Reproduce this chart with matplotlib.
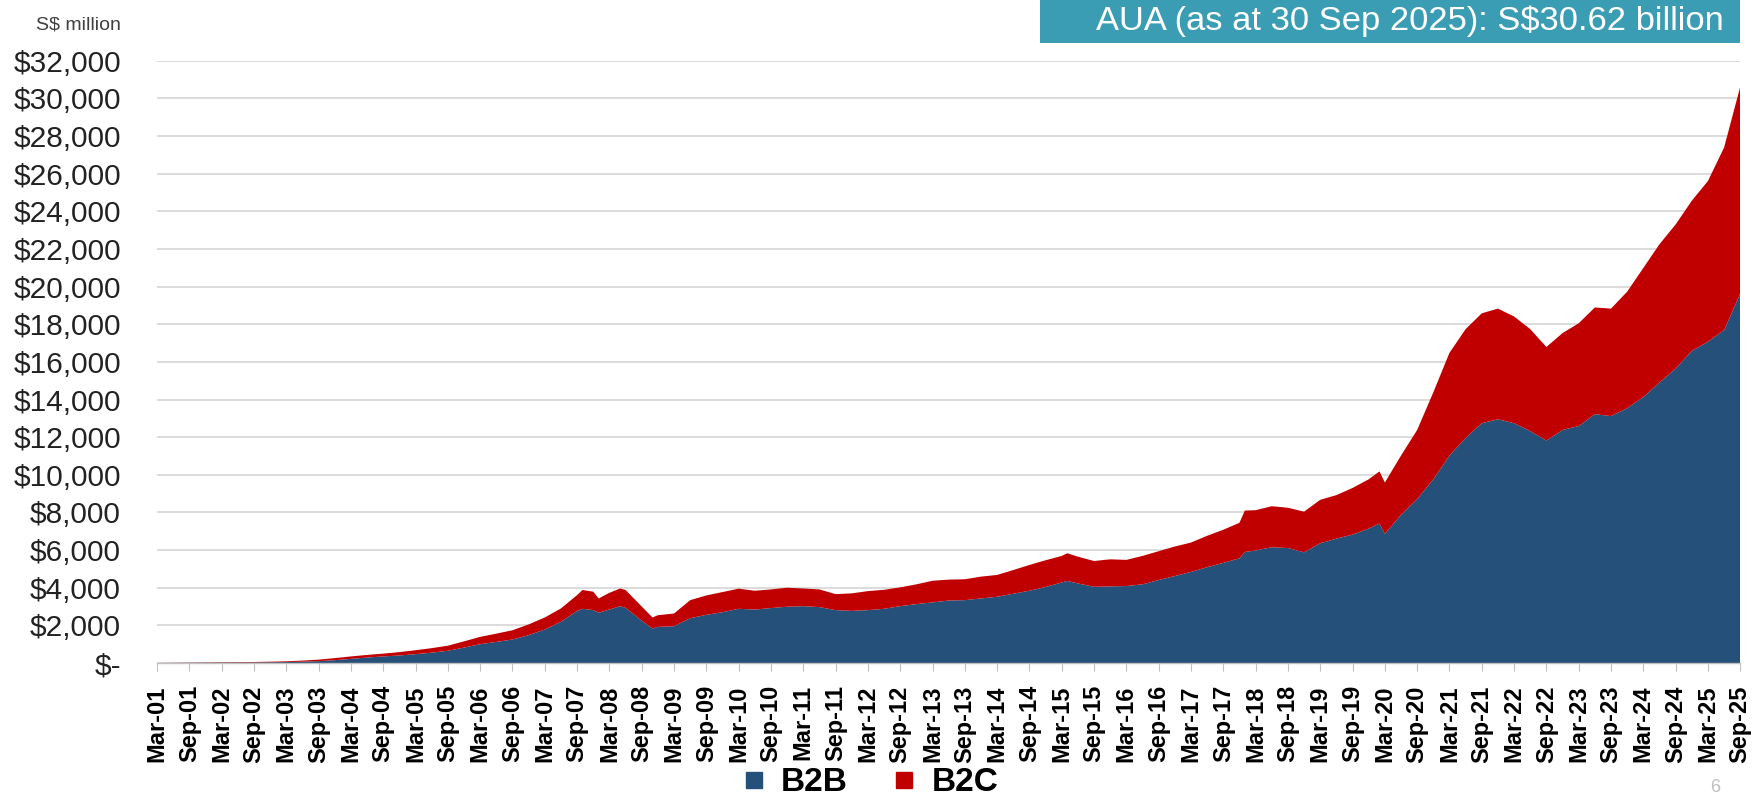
import numpy as np
import matplotlib.pyplot as plt
from matplotlib.lines import Line2D
from matplotlib.patches import Rectangle
from matplotlib.ticker import FuncFormatter

plt.rcParams['font.family'] = ['Liberation Sans', 'DejaVu Sans']

# month-end dates (S$ million)
dates = ['2001-03', '2001-06', '2001-09', '2001-12', '2002-03', '2002-06', '2002-09', '2002-12',
         '2003-03', '2003-06', '2003-09', '2003-12', '2004-03', '2004-06', '2004-09', '2004-12',
         '2005-03', '2005-06', '2005-09', '2005-12', '2006-03', '2006-06', '2006-09', '2006-12',
         '2007-03', '2007-06', '2007-09', '2007-10', '2007-12', '2008-01', '2008-03', '2008-05',
         '2008-06', '2008-09', '2008-11', '2008-12', '2009-03', '2009-06', '2009-09', '2009-12',
         '2010-03', '2010-06', '2010-09', '2010-12', '2011-03', '2011-06', '2011-09', '2011-12',
         '2012-03', '2012-06', '2012-09', '2012-12', '2013-03', '2013-06', '2013-09', '2013-12',
         '2014-03', '2014-06', '2014-09', '2014-12', '2015-03', '2015-04', '2015-06', '2015-09',
         '2015-12', '2016-03', '2016-06', '2016-09', '2016-12', '2017-03', '2017-06', '2017-09',
         '2017-12', '2018-01', '2018-03', '2018-06', '2018-09', '2018-12', '2019-03', '2019-06',
         '2019-09', '2019-12', '2020-02', '2020-03', '2020-06', '2020-09', '2020-12', '2021-03',
         '2021-06', '2021-09', '2021-12', '2022-03', '2022-06', '2022-09', '2022-12', '2023-03',
         '2023-06', '2023-09', '2023-12', '2024-03', '2024-06', '2024-09', '2024-12', '2025-03',
         '2025-06', '2025-09']

b2b = [0, 5, 10, 15, 20, 25, 30, 40,
       50, 70, 100, 150, 220, 290, 350, 400,
       470, 550, 650, 820, 1000, 1120, 1250, 1480,
       1780, 2190, 2770, 2880, 2810, 2670, 2840, 3020,
       2930, 2250, 1830, 1920, 1955, 2380, 2560, 2700,
       2880, 2840, 2920, 2990, 3020, 2970, 2810, 2770,
       2810, 2880, 3020, 3130, 3220, 3320, 3340, 3430,
       3520, 3680, 3840, 4040, 4280, 4360, 4230, 4050,
       4070, 4090, 4180, 4410, 4620, 4840, 5090, 5320,
       5560, 5900, 5980, 6150, 6110, 5880, 6360, 6610,
       6820, 7140, 7410, 6860, 7870, 8710, 9760, 11020,
       11960, 12740, 12950, 12740, 12320, 11820, 12380, 12590,
       13220, 13120, 13540, 14130, 14900, 15640, 16580, 17070,
       17690, 19630]

b2c = [0, 5, 10, 15, 20, 20, 25, 30,
       40, 60, 80, 110, 130, 140, 150, 180,
       210, 240, 270, 330, 390, 440, 490, 570,
       640, 710, 840, 1000, 980, 760, 890, 940,
       950, 750, 590, 620, 675, 960, 1030, 1070,
       1070, 1000, 990, 1010, 940, 940, 850, 930,
       1010, 1010, 1000, 1050, 1150, 1110, 1110, 1160,
       1160, 1260, 1370, 1420, 1410, 1470, 1420, 1370,
       1440, 1390, 1510, 1530, 1570, 1560, 1670, 1760,
       1890, 2200, 2140, 2180, 2140, 2160, 2310, 2310,
       2480, 2620, 2770, 2730, 3150, 3670, 4620, 5460,
       5780, 5840, 5880, 5670, 5420, 4970, 5150, 5460,
       5670, 5710, 6190, 6860, 7350, 7660, 7980, 8540,
       9700, 10990]

tick_years = list(range(2001, 2026))
tick_labels = [f'{m}-{y % 100:02d}' for y in tick_years for m in ('Mar', 'Sep')]

yticks = list(range(0, 32001, 2000))

blue = '#24507A'
red = '#C00000'


def month_index(s):
    y, m = s.split('-')
    return (int(y) - 2001) * 12 + int(m) - 3


x = np.array([month_index(d) for d in dates])
tick_pos = [month_index(f'{y}-{m:02d}') for y in tick_years for m in (3, 9)]

fig = plt.figure(figsize=(17.63, 8.02), dpi=100)
ax = fig.add_axes([0.0891, 0.1733, 0.898, 0.751])

ax.stackplot(x, b2b, b2c, colors=[blue, red], linewidth=0, zorder=2)

ax.set_xlim(0, tick_pos[-1])
ax.set_ylim(0, 32000)
ax.set_yticks(yticks)
ax.yaxis.set_major_formatter(FuncFormatter(lambda v, p: '$-' if v == 0 else f'${v:,.0f}'))
ax.grid(axis='y', color='#D9D9D9', linewidth=1.3, zorder=0)
ax.set_axisbelow(True)

ax.set_xticks(tick_pos)
ax.set_xticklabels(tick_labels, rotation=90, fontsize=17, fontweight='bold')
ax.tick_params(axis='x', length=6, color='#BFBFBF', pad=10)
ax.tick_params(axis='y', length=0, labelsize=21.5, pad=26, labelcolor='#222222')

for s in ['top', 'right', 'left']:
    ax.spines[s].set_visible(False)
ax.spines['bottom'].set_color('#BFBFBF')
ax.spines['bottom'].set_linewidth(1)

# title box
fig.patches.append(Rectangle((0.590, 0.946), 0.397, 0.054, transform=fig.transFigure,
                             facecolor='#3B9DB3', edgecolor='none'))
fig.text(0.978, 0.973, 'AUA (as at 30 Sep 2025): S$30.62 billion', color='white',
         fontsize=24.8, ha='right', va='center')

fig.text(0.0686, 0.969, 'S$ million', fontsize=14, ha='right', va='center', color='#404040')

handles = [Line2D([], [], marker='s', linestyle='none', markersize=11.5, color=blue),
           Line2D([], [], marker='s', linestyle='none', markersize=11.5, color=red)]
fig.legend(handles, ['B2B', 'B2C'], loc='center', bbox_to_anchor=(0.4946, 0.024), ncol=2,
           frameon=False, prop={'size': 24, 'weight': 'bold'}, handlelength=0.5,
           handletextpad=0.56, columnspacing=1.44, borderpad=0)

fig.text(0.973, 0.018, '6', fontsize=13, color='#BFBFBF', ha='center', va='center')

fig.savefig('out.png', dpi=100)
